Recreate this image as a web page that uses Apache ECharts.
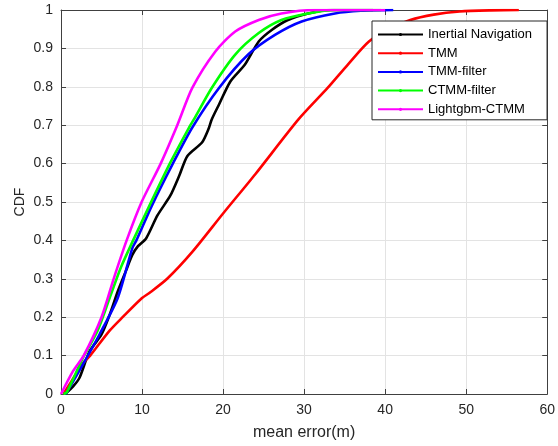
<!DOCTYPE html>
<html>
<head>
<meta charset="utf-8">
<script src="https://cdn.jsdelivr.net/npm/echarts@6/dist/echarts.min.js"></script>
<style>
html,body{margin:0;padding:0;background:#fff;}
#chart{width:558px;height:446px;}
</style>
</head>
<body>
<div id="chart"></div>
<script>
// ---- data ----
var seriesNames = ['Inertial Navigation', 'TMM', 'TMM-filter', 'CTMM-filter', 'Lightgbm-CTMM'];
var seriesColors = ['#000000', '#ff0000', '#0000ff', '#00ff00', '#ff00ff'];

var inertialErr = [0.5, 1.5, 2.3, 3.5, 5.0, 6.0, 7.0, 8.0, 8.8, 9.5, 10.5, 11.9, 13.5, 14.6, 15.6, 17.4, 18.2, 18.6, 19.5, 20.9, 22.7, 24.4, 26.0, 28.0, 30.5, 33.3, 38.5];
var inertialCdf = [0, 0.02, 0.043, 0.11, 0.155, 0.206, 0.267, 0.32, 0.362, 0.385, 0.405, 0.465, 0.517, 0.569, 0.62, 0.655, 0.69, 0.715, 0.754, 0.814, 0.858, 0.918, 0.948, 0.974, 0.991, 1.0, 1.0];

var tmmErr = [0.3, 1.2, 2.7, 3.6, 6.0, 7.6, 10.0, 10.9, 13.1, 16.2, 20.0, 24.0, 29.3, 32.9, 35.4, 38.0, 40.5, 43.1, 46.0, 49.2, 53.0, 56.5];
var tmmCdf = [0, 0.03, 0.08, 0.10, 0.165, 0.20, 0.25, 0.263, 0.30, 0.37, 0.47, 0.573, 0.715, 0.797, 0.858, 0.918, 0.95, 0.974, 0.988, 0.996, 0.999, 1.0];

var tmmFilterErr = [0.5, 0.7, 2.7, 4.75, 7.0, 8.8, 9.3, 11.2, 13.8, 16.2, 19.5, 23.1, 26.4, 29.7, 33.8, 37.0, 41.0];
var tmmFilterCdf = [0, 0.004, 0.077, 0.155, 0.25, 0.38, 0.40, 0.49, 0.60, 0.694, 0.797, 0.884, 0.935, 0.97, 0.991, 0.998, 1.0];

var ctmmErr = [0.3, 0.7, 2.7, 4.5, 6.0, 7.4, 8.9, 10.9, 13.5, 15.8, 16.4, 18.6, 21.5, 24.4, 27.2, 30.5, 33.8, 39.5];
var ctmmCdf = [0, 0.004, 0.094, 0.164, 0.25, 0.33, 0.40, 0.49, 0.603, 0.694, 0.715, 0.797, 0.884, 0.94, 0.974, 0.991, 1.0, 1.0];

var lgbErr = [0, 1.5, 2.8, 5.0, 6.5, 8.1, 9.95, 12.3, 14.35, 16.2, 19.05, 21.5, 24.4, 27.2, 31.3, 40.0];
var lgbCdf = [0, 0.06, 0.10, 0.20, 0.30, 0.40, 0.50, 0.60, 0.70, 0.797, 0.892, 0.944, 0.974, 0.991, 1.0, 1.0];

var xTicks = [0, 10, 20, 30, 40, 50, 60];
var yTicks = [0, 0.1, 0.2, 0.3, 0.4, 0.5, 0.6, 0.7, 0.8, 0.9, 1];

function zip(xs, ys) { return xs.map(function (x, i) { return [x, ys[i]]; }); }
var allData = [
  zip(inertialErr, inertialCdf),
  zip(tmmErr, tmmCdf),
  zip(tmmFilterErr, tmmFilterCdf),
  zip(ctmmErr, ctmmCdf),
  zip(lgbErr, lgbCdf)
];

var axisColor = '#404040';
var font = 'Liberation Sans, Arial, Helvetica, sans-serif';

var chart = echarts.init(document.getElementById('chart'), null, {renderer: 'canvas'});
var series = seriesNames.map(function (n, i) {
  return {
    name: n,
    type: 'line',
    data: allData[i],
    smooth: 0.25,
    symbol: 'circle',
    symbolSize: 3,
    showSymbol: false,
    lineStyle: {color: seriesColors[i], width: 2.6},
    itemStyle: {color: seriesColors[i]},
    animation: false,
    z: 2 + i
  };
});

var option = {
  backgroundColor: '#ffffff',
  animation: false,
  grid: {left: 61, right: 8, top: 10, bottom: 49.5, containLabel: false},
  legend: {
    orient: 'vertical',
    left: 372,
    top: 21,
    padding: [7, 15, 4, 5],
    itemWidth: 45,
    itemHeight: 4,
    itemGap: 5.7,
    backgroundColor: '#ffffff',
    borderColor: '#262626',
    borderWidth: 1,
    borderRadius: 0,
    textStyle: {fontFamily: font, fontSize: 13, color: '#000'},
    data: seriesNames
  },
  xAxis: [{
    type: 'value', min: xTicks[0], max: xTicks[xTicks.length - 1], interval: 10,
    name: 'mean error(m)', nameLocation: 'middle', nameGap: 31, nameMoveOverlap: false,
    nameTextStyle: {fontFamily: font, fontSize: 16, color: '#262626'},
    axisLine: {onZero: false, lineStyle: {color: axisColor, width: 1}},
    axisTick: {inside: true, length: 5, lineStyle: {color: axisColor}},
    axisLabel: {fontFamily: font, fontSize: 14, color: '#262626', margin: 9},
    splitLine: {show: true, lineStyle: {color: '#e3e3e3', width: 1}}
  }, {
    type: 'value', position: 'top', min: xTicks[0], max: xTicks[xTicks.length - 1], interval: 10,
    axisLine: {onZero: false, lineStyle: {color: axisColor, width: 1}},
    axisTick: {inside: true, length: 5, lineStyle: {color: axisColor}},
    axisLabel: {show: false}, splitLine: {show: false}
  }],
  yAxis: [{
    type: 'value', min: yTicks[0], max: yTicks[yTicks.length - 1], interval: 0.1,
    name: 'CDF', nameLocation: 'middle', nameGap: 34, nameRotate: 90, nameMoveOverlap: false,
    nameTextStyle: {fontFamily: font, fontSize: 14, color: '#262626'},
    axisLine: {onZero: false, lineStyle: {color: axisColor, width: 1}},
    axisTick: {inside: true, length: 5, lineStyle: {color: axisColor}},
    axisLabel: {fontFamily: font, fontSize: 14, color: '#262626', margin: 8,
      formatter: function (v) { return String(Math.round(v * 10) / 10); }},
    splitLine: {show: true, lineStyle: {color: '#e3e3e3', width: 1}}
  }, {
    type: 'value', position: 'right', min: yTicks[0], max: yTicks[yTicks.length - 1], interval: 0.1,
    axisLine: {onZero: false, lineStyle: {color: axisColor, width: 1}},
    axisTick: {inside: true, length: 5, lineStyle: {color: axisColor}},
    axisLabel: {show: false}, splitLine: {show: false}
  }],
  series: series
};
chart.setOption(option);
</script>
</body>
</html>
